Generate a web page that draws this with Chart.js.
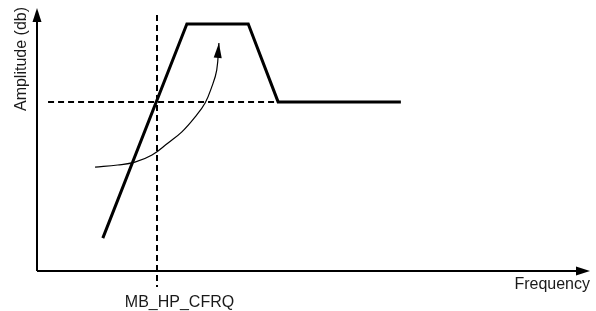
<!DOCTYPE html>
<html>
<head>
<meta charset="utf-8">
<script src="https://cdn.jsdelivr.net/npm/chart.js@4/dist/chart.umd.min.js"></script>
<style>
    body { margin: 0; background: #fff; }
    #wrap { width: 596px; height: 311px; position: relative; }
</style>
</head>
<body>
<div id="wrap"><canvas id="filterChart"></canvas></div>
<script>
// Filter response sketch (values in arbitrary 0-100 units)

const responseX = [11.9, 27.1, 38.2, 43.6, 65.8];
const responseY = [12.5, 93.9, 93.9, 64.3, 64.3];

const cutoffX = [21.7, 21.7];
const cutoffY = [97.3, -6.1];

const levelX = [2.0, 43.4];
const levelY = [64.3, 64.3];

const sweepX = [10.5, 14.6, 17.7, 20.8, 23.7, 26.2, 28.6, 30.4, 31.6, 32.5, 32.9];
const sweepY = [39.5, 40.3, 41.4, 44.1, 48.7, 52.9, 58.6, 63.9, 70.0, 76.4, 86.7];

const xTitle = 'Frequency';
const yTitle = 'Amplitude (db)';
const markerLabel = 'MB_HP_CFRQ';

function toPoints(xs, ys) {
    return xs.map((x, i) => ({ x: x, y: ys[i] }));
}

function arrowHead(ctx, tipX, tipY, angle, len, half) {
    ctx.save();
    ctx.translate(tipX, tipY);
    ctx.rotate(angle);
    ctx.beginPath();
    ctx.moveTo(0, 0);
    ctx.lineTo(-len, -half);
    ctx.lineTo(-len, half);
    ctx.closePath();
    ctx.fill();
    ctx.restore();
}

// axes with arrows + labels
const sketchAxes = {
    id: 'sketchAxes',
    beforeDatasetsDraw(chart) {
        const ctx = chart.ctx;
        const xs = chart.scales.x, ys = chart.scales.y;
        const x0 = xs.getPixelForValue(0), x1 = xs.getPixelForValue(100);
        const y0 = ys.getPixelForValue(0), y1 = ys.getPixelForValue(100);
        ctx.save();
        ctx.strokeStyle = '#000';
        ctx.fillStyle = '#000';
        ctx.lineWidth = 2;
        ctx.beginPath();
        ctx.moveTo(x0, y0);
        ctx.lineTo(x1 - 10, y0);
        ctx.moveTo(x0, y0);
        ctx.lineTo(x0, y1 + 10);
        ctx.stroke();
        arrowHead(ctx, x1, y0, 0, 14, 4.5);
        arrowHead(ctx, x0, y1, -Math.PI / 2, 14, 4.5);

        ctx.fillStyle = '#1a1a1a';
        ctx.font = '16px "Liberation Sans", Arial, sans-serif';
        ctx.textBaseline = 'alphabetic';
        ctx.textAlign = 'right';
        ctx.fillText(xTitle, x1, y0 + 18);
        ctx.textAlign = 'center';
        ctx.fillText(markerLabel, xs.getPixelForValue(cutoffX[0]) + 22.5, y0 + 36);
        ctx.translate(x0 - 11.5, y1 + 51);
        ctx.rotate(-Math.PI / 2);
        ctx.fillText(yTitle, 0, 0);
        ctx.restore();
    },
    afterDatasetsDraw(chart) {
        const pts = chart.getDatasetMeta(3).data;
        const a = pts[pts.length - 2], b = pts[pts.length - 1];
        const ang = Math.atan2(b.y - a.y, b.x - a.x);
        chart.ctx.save();
        chart.ctx.fillStyle = '#000';
        arrowHead(chart.ctx, b.x, b.y, ang, 15, 4);
        chart.ctx.restore();
    }
};

new Chart(document.getElementById('filterChart'), {
    type: 'line',
    data: {
        datasets: [
            {
                data: toPoints(responseX, responseY),
                borderColor: '#000',
                borderWidth: 3,
                pointRadius: 0,
                borderJoinStyle: 'miter'
            },
            {
                data: toPoints(cutoffX, cutoffY),
                borderColor: '#000',
                borderWidth: 2,
                borderDash: [6, 4],
                pointRadius: 0
            },
            {
                data: toPoints(levelX, levelY),
                borderColor: '#000',
                borderWidth: 2,
                borderDash: [6, 4],
                pointRadius: 0
            },
            {
                data: toPoints(sweepX, sweepY),
                borderColor: '#000',
                borderWidth: 1.2,
                pointRadius: 0,
                tension: 0.4
            }
        ]
    },
    options: {
        responsive: true,
        maintainAspectRatio: false,
        animation: false,
        clip: false,
        layout: { padding: { left: 37, right: 6, top: 8, bottom: 40 } },
        plugins: { legend: { display: false }, tooltip: { enabled: false } },
        scales: {
            x: { type: 'linear', min: 0, max: 100, display: false },
            y: { type: 'linear', min: 0, max: 100, display: false }
        }
    },
    plugins: [sketchAxes]
});
</script>
</body>
</html>
